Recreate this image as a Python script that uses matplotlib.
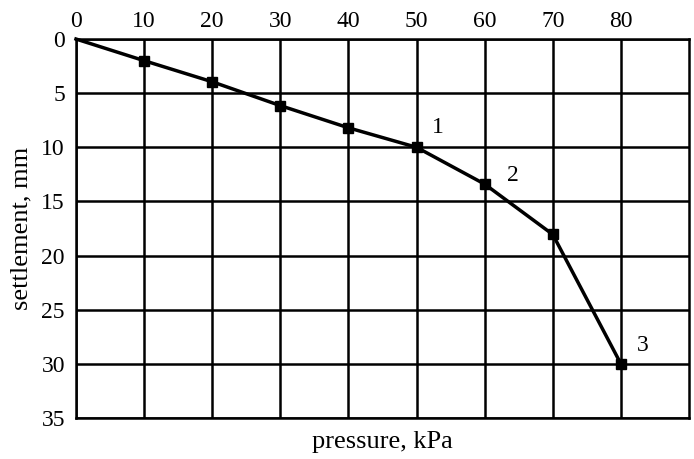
import matplotlib
matplotlib.use("Agg")
import matplotlib.pyplot as plt

pressure = [0, 10, 20, 30, 40, 50, 60, 70, 80]
settlement = [0, 2.0, 3.95, 6.15, 8.2, 10.0, 13.4, 18.05, 30.0]
x_ticks = [0, 10, 20, 30, 40, 50, 60, 70, 80]
y_ticks = [0, 5, 10, 15, 20, 25, 30, 35]
point_labels = ["1", "2", "3"]
label_points = [(53.1, 8.2), (64.1, 12.6), (83.2, 28.3)]

plt.rcParams['font.family'] = ['Liberation Serif', 'DejaVu Serif']

fig = plt.figure(figsize=(6.94, 4.59), dpi=100)
ax = fig.add_axes([0.1095, 0.0893, 0.8833, 0.8257])

ax.plot(pressure, settlement, color='black', lw=2.5, marker='s', ms=7,
        markevery=list(range(1, len(pressure))),
        markerfacecolor='black', zorder=3, clip_on=False)

for txt, (lx, ly) in zip(point_labels, label_points):
    ax.text(lx, ly, txt, fontsize=17, ha='center', va='center')

ax.set_xlim(0, 90)
ax.set_ylim(35, 0)
ax.set_xticks(x_ticks)
ax.set_yticks(y_ticks)
ax.xaxis.tick_top()
ax.tick_params(axis='y', length=0, labelsize=17, pad=8)
ax.tick_params(axis='x', length=0, labelsize=17, pad=5)
ax.grid(True, color='black', lw=1.8)
for s in ax.spines.values():
    s.set_linewidth(1.8)

ax.set_xlabel('pressure, kPa', fontsize=19, labelpad=9)
ax.xaxis.set_label_position('bottom')
ax.set_ylabel('settlement, mm', fontsize=19, labelpad=6)

fig.savefig('out.png', dpi=100)
